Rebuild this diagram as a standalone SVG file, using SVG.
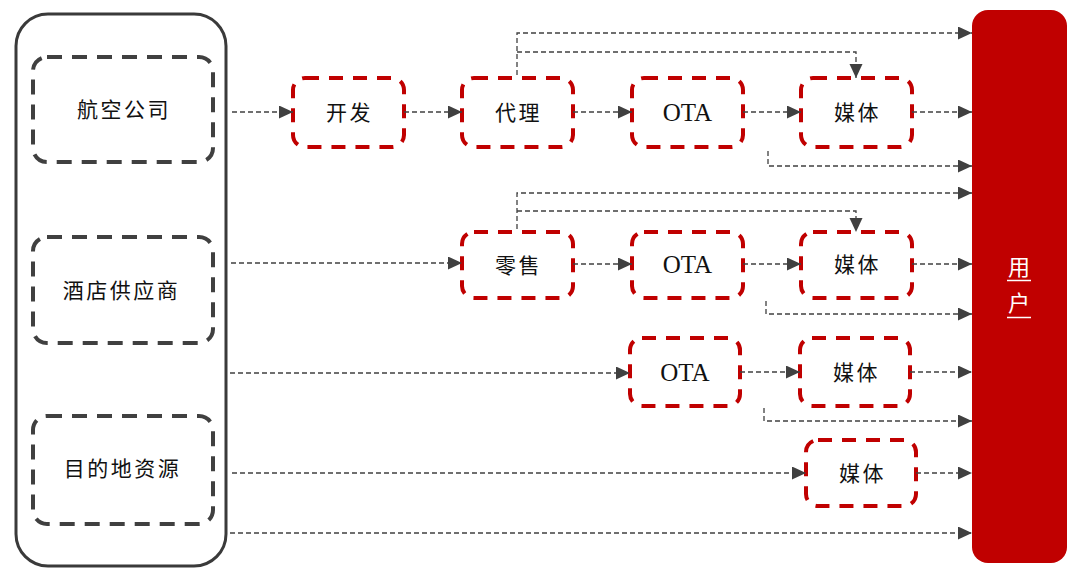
<svg xmlns="http://www.w3.org/2000/svg" width="1080" height="579" viewBox="0 0 1080 579">
<defs>
<marker id="ah" markerWidth="15" markerHeight="14" refX="14" refY="6.5" orient="auto" markerUnits="userSpaceOnUse">
<path d="M0,0 L14,6.5 L0,13 Z" fill="#404040"/>
</marker>
<style>
.src{fill:#fff;stroke:#404040;stroke-width:4;stroke-dasharray:15 10}
.mid{fill:#fff;stroke:#c00000;stroke-width:4;stroke-dasharray:14 10}
.cn{font-family:"Noto Sans CJK SC","Noto Sans",sans-serif;font-size:21px;fill:#111;text-anchor:middle;letter-spacing:2.5px}
.ota{font-family:"Liberation Serif","Times New Roman",serif;font-size:25px;fill:#111;text-anchor:middle}
.ln{fill:none;stroke:#404040;stroke-width:1.3;stroke-dasharray:5 3;marker-end:url(#ah)}
.usr{font-family:"Noto Sans CJK SC","Noto Sans",sans-serif;font-size:22px;fill:#fff;text-anchor:middle}
</style>
</defs>
<rect width="1080" height="579" fill="#fff"/>

<g id="sources">
<rect x="16" y="14" width="210" height="552" rx="32" fill="#fff" stroke="#3a3a3a" stroke-width="3"/>
</g>
<g id="airline"><rect class="src" x="33" y="57" width="180" height="105" rx="14"/><text class="cn" x="124" y="117">航空公司</text></g>
<g id="hotel"><rect class="src" x="33" y="237" width="180" height="106" rx="14"/><text class="cn" x="121.5" y="298">酒店供应商</text></g>
<g id="dest"><rect class="src" x="33" y="416" width="180" height="108" rx="14"/><text class="cn" x="122.5" y="476">目的地资源</text></g>

<g id="kaifa"><rect class="mid" x="293" y="78" width="111" height="69" rx="12"/><text class="cn" x="349.5" y="120">开发</text></g>
<g id="daili"><rect class="mid" x="462" y="78" width="111" height="69" rx="12"/><text class="cn" x="518.5" y="120">代理</text></g>
<g id="ota1"><rect class="mid" x="632" y="78" width="111" height="69" rx="12"/><text class="ota" x="687.5" y="121">OTA</text></g>
<g id="media1"><rect class="mid" x="801" y="78" width="111" height="69" rx="12"/><text class="cn" x="857.5" y="120">媒体</text></g>

<g id="lingshou"><rect class="mid" x="462" y="232" width="111" height="66" rx="12"/><text class="cn" x="518.5" y="273">零售</text></g>
<g id="ota2"><rect class="mid" x="632" y="232" width="111" height="66" rx="12"/><text class="ota" x="687.5" y="273">OTA</text></g>
<g id="media2"><rect class="mid" x="801" y="232" width="111" height="66" rx="12"/><text class="cn" x="857.5" y="272">媒体</text></g>

<g id="ota3"><rect class="mid" x="630" y="338" width="110" height="68" rx="12"/><text class="ota" x="685" y="381">OTA</text></g>
<g id="media3"><rect class="mid" x="800" y="338" width="110" height="68" rx="12"/><text class="cn" x="856.5" y="380">媒体</text></g>

<g id="media4"><rect class="mid" x="806" y="440" width="110" height="66" rx="12"/><text class="cn" x="862.5" y="481">媒体</text></g>

<g id="user">
<rect x="972" y="10" width="95" height="553" rx="16" fill="#c00000"/>
<text class="usr" x="1019" y="275">用</text>
<line x1="1007" y1="280.5" x2="1031" y2="280.5" stroke="#fff" stroke-width="1.5"/>
<text class="usr" x="1019" y="311">户</text>
<line x1="1007" y1="317.5" x2="1031" y2="317.5" stroke="#fff" stroke-width="1.5"/>
</g>

<g id="connectors">
<path class="ln" d="M232,112 H293"/>
<path class="ln" d="M404,112 H462"/>
<path class="ln" d="M573,112 H632"/>
<path class="ln" d="M743,112 H801"/>
<path class="ln" d="M912,112 H972"/>
<path class="ln" d="M517,75 V33 H972"/>
<path class="ln" d="M517,52 H856 V78"/>
<path class="ln" d="M768,151 V166 H972"/>

<path class="ln" d="M231,263 H462"/>
<path class="ln" d="M573,264 H632"/>
<path class="ln" d="M743,264 H801"/>
<path class="ln" d="M912,264 H972"/>
<path class="ln" d="M517,229 V193 H972"/>
<path class="ln" d="M517,211 H856 V232"/>
<path class="ln" d="M766,301 V314 H972"/>

<path class="ln" d="M230,373 H630"/>
<path class="ln" d="M740,372 H800"/>
<path class="ln" d="M910,372 H972"/>
<path class="ln" d="M764,408 V421 H972"/>

<path class="ln" d="M232,473 H806"/>
<path class="ln" d="M916,473 H972"/>
<path class="ln" d="M230,533 H972"/>
</g>
</svg>
